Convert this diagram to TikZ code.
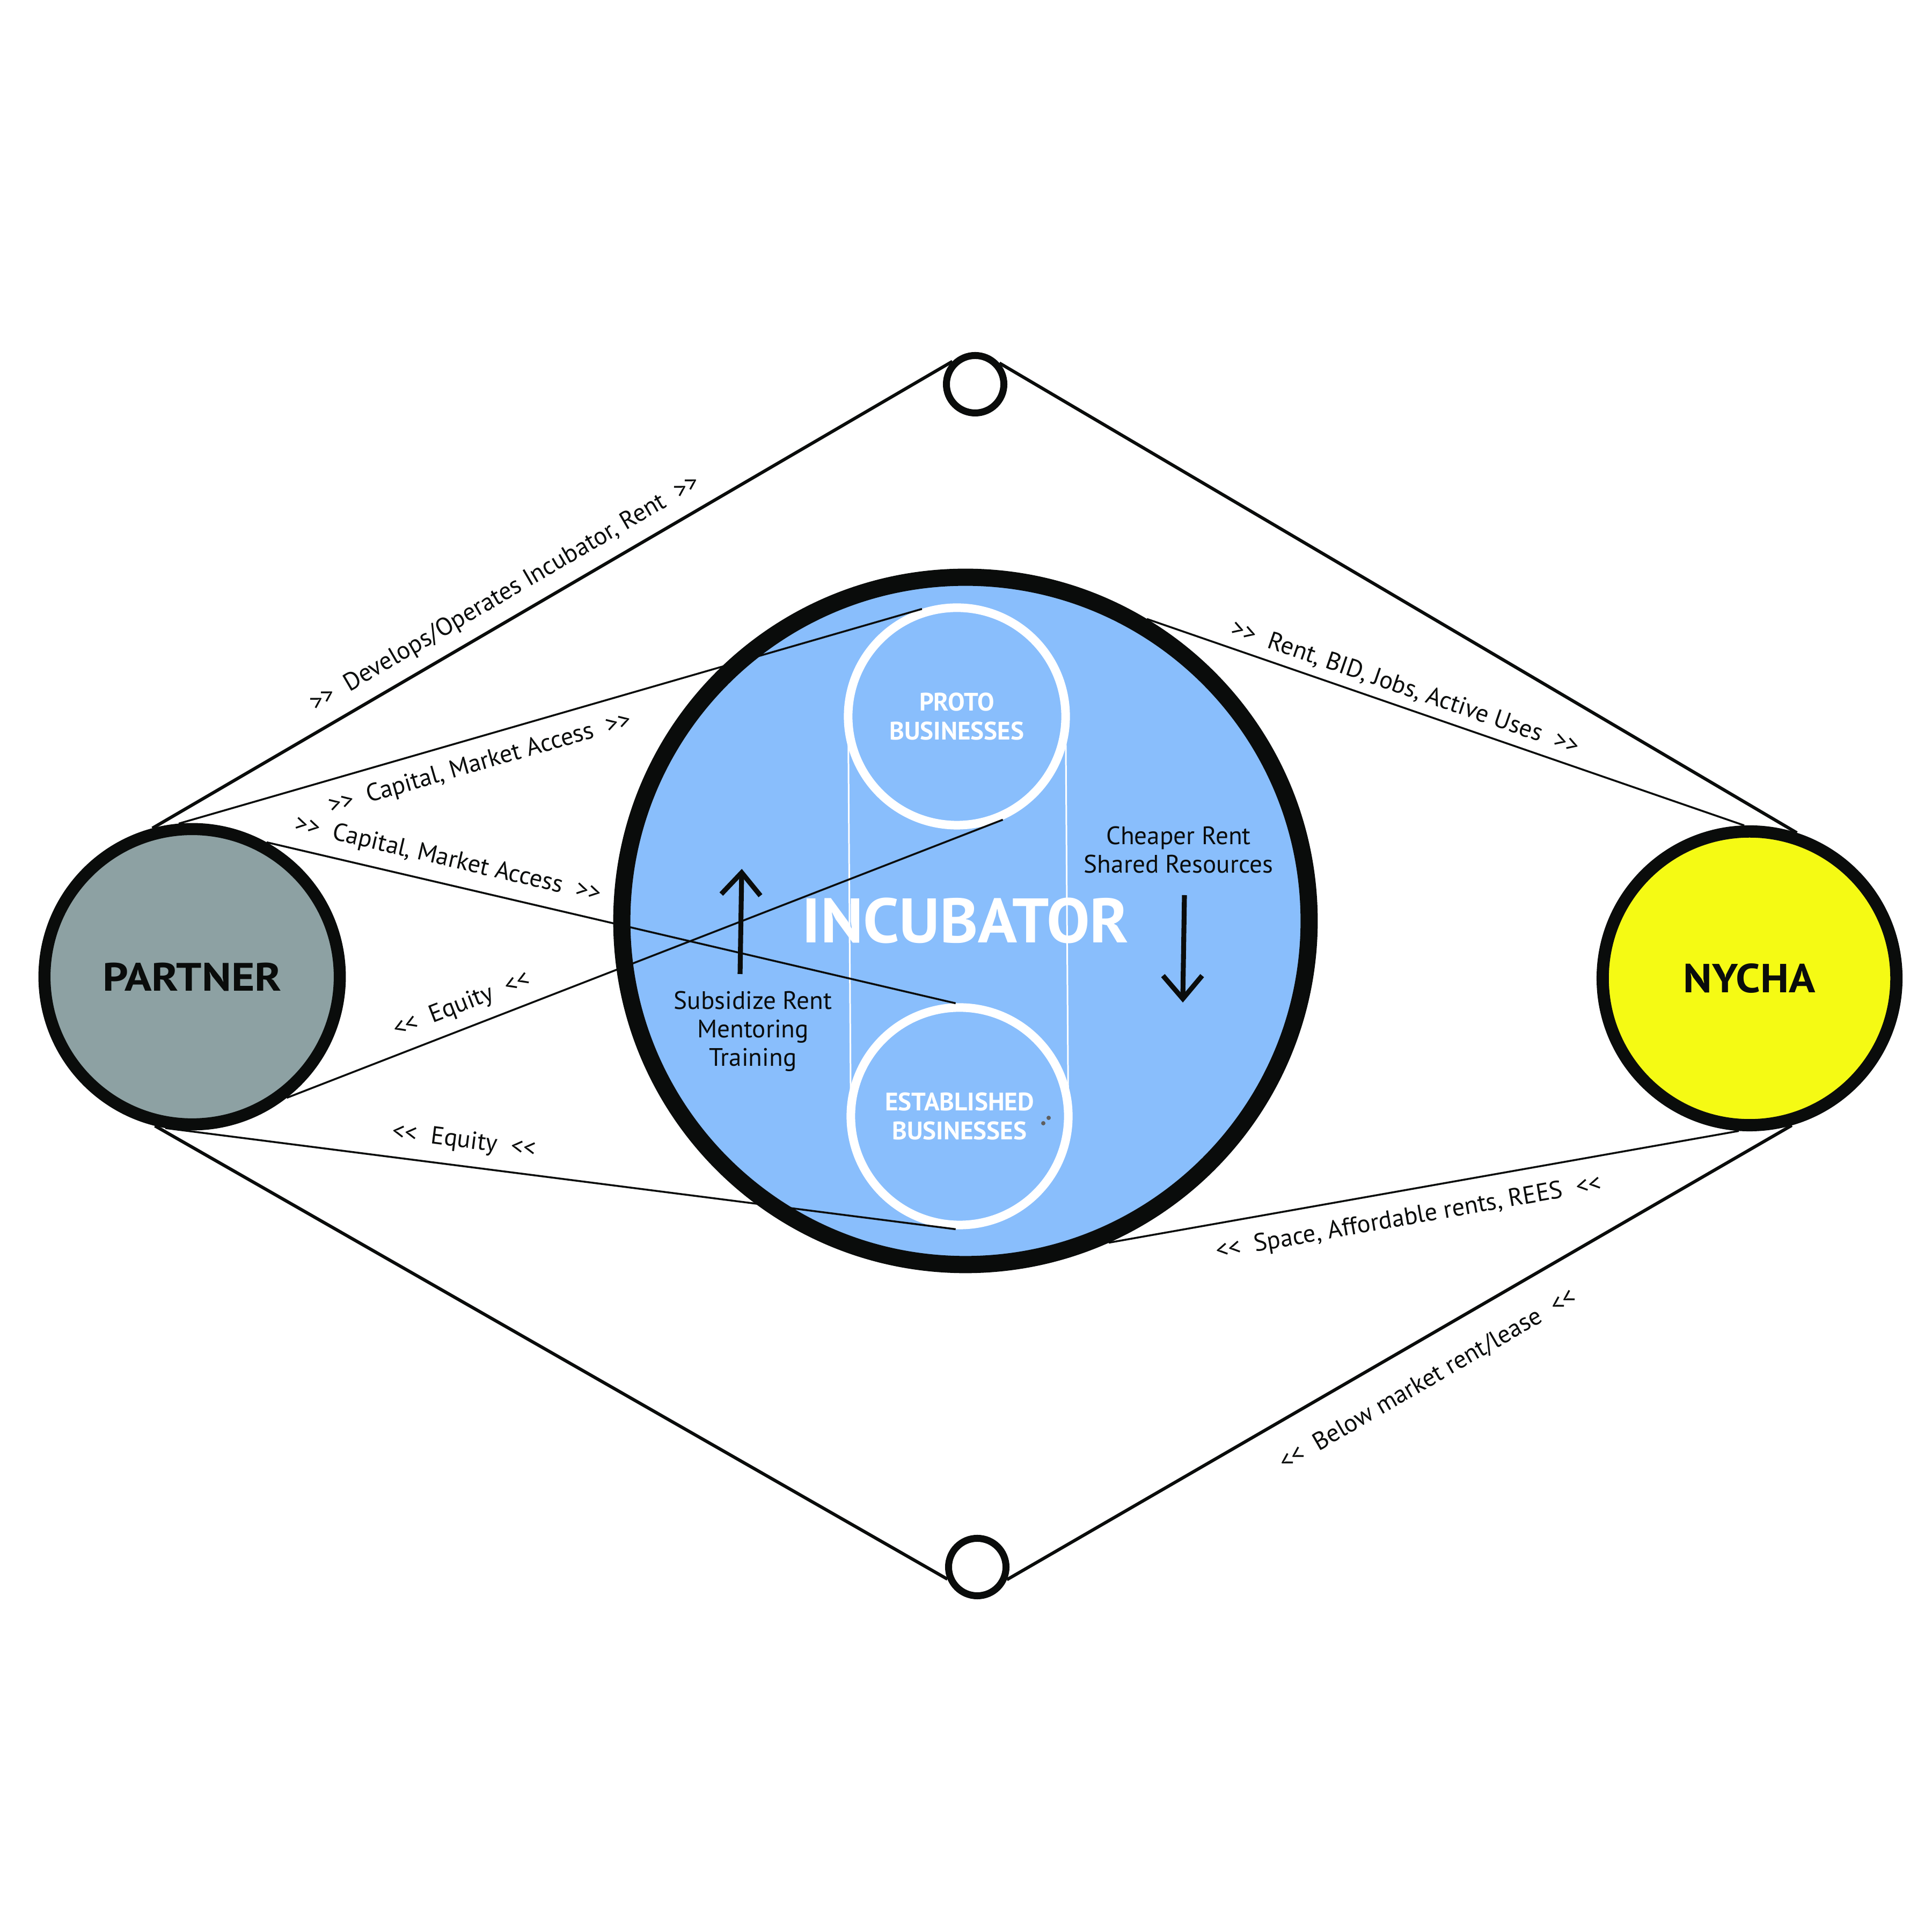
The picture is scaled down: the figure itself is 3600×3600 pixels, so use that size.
\documentclass[tikz,border=0pt]{standalone}
\usepackage{fontspec}
\setmainfont{PT Sans}
\newfontfamily\partnerfont{PT Sans}[FakeStretch=1.13]
\newfontfamily\nychafont{PT Sans}[FakeStretch=1.08]
\newfontfamily\incfont{PT Sans}[FakeStretch=1.03]
\definecolor{ink}{RGB}{10,12,11}
\definecolor{partnergray}{RGB}{141,161,163}
\definecolor{nychayellow}{RGB}{245,250,20}
\definecolor{incblue}{RGB}{137,190,252}
\definecolor{dotgray}{RGB}{95,95,95}
\newcommand\fwd{>\kern0pt>}
\newcommand\bwd{<\kern0pt<}
\newcommand\gapsp{\hspace{0.55em}}
\begin{document}
\begin{tikzpicture}[x=0.01cm,y=0.01cm,
  bigcircle/.style={circle, draw=ink, inner sep=0pt},
  smallcircle/.style={circle, draw=ink, fill=white, line width=3.7pt, inner sep=0pt, minimum size=1.07cm},
  ringcircle/.style={circle, draw=white, line width=4.55pt, inner sep=0pt, minimum size=4.05cm,
    text=white, align=center, font=\bfseries\fontsize{13.4}{15.1}\selectfont},
  lab/.style={font=\fontsize{13.2}{15.5}\selectfont, text=ink, sloped, inner xsep=0pt},
  intext/.style={font=\fontsize{13.4}{15.1}\selectfont, text=ink, align=center, inner sep=0pt},
  diamondline/.style={draw=ink, line width=1.7pt},
  flowline/.style={draw=ink, line width=1pt},
  tangentline/.style={draw=white, line width=0.85pt},
  arrowline/.style={draw=ink, line width=2.6pt, line join=miter}]
\useasboundingbox (0,0) rectangle (3600,3600);
\fill[white] (0,0) rectangle (3600,3600);

% main circles
\node[bigcircle, fill=incblue, line width=9.1pt, minimum size=12.8cm,
      text=white, font=\incfont\bfseries\fontsize{33.3}{36}\selectfont] (incubator) at (1799,1884) {INCUBATOR};
\node[bigcircle, fill=partnergray, line width=6.4pt, minimum size=5.5cm,
      text=ink, font=\partnerfont\bfseries\fontsize{21}{24}\selectfont] (partner) at (358,1780) {PARTNER};
\node[bigcircle, fill=nychayellow, line width=6.5pt, minimum size=5.47cm,
      text=ink, font=\nychafont\bfseries\fontsize{21.5}{24}\selectfont] (nycha) at (3260,1777) {NYCHA};
\node[smallcircle] (topc) at (1817,2884) {};
\node[smallcircle] (botc) at (1821,680) {};

% inner rings
\node[ringcircle] (proto) at (1783,2265) {PROTO\\BUSINESSES};
\node[ringcircle] (estab) at (1788,1520) {ESTABLISHED\\BUSINESSES};
\draw[tangentline] ([xshift=0.08cm]proto.west) -- ([xshift=0.08cm]estab.west);
\draw[tangentline] ([xshift=-0.08cm]proto.east) -- ([xshift=-0.08cm]estab.east);
\fill[dotgray] (1944,1507) circle[radius=0.04cm];
\fill[dotgray] (1954,1517) circle[radius=0.04cm];

% diamond
\draw[diamondline] (partner.105) -- node[lab, above, inner ysep=0.22cm, pos=0.457]
  {\fwd\gapsp Develops/Operates Incubator, Rent\gapsp\fwd} (topc.135);
\draw[diamondline] (topc.41) -- (nycha.72.6);
\draw[diamondline] (partner.-104.6) -- (botc.-158);
\draw[diamondline] (botc.-23.7) -- node[lab, below, inner ysep=0.48cm, pos=0.512]
  {\bwd\gapsp Below market rent/lease\gapsp\bwd} (nycha.-74.5);

% flows
\draw[flowline] (partner.95) -- node[lab, below, inner ysep=0.26cm, pos=0.396]
  {\fwd\gapsp Capital, Market Access\gapsp\fwd} (proto.108);
\draw[flowline] (partner.61) -- node[lab, above, inner ysep=0.22cm, pos=0.255]
  {\fwd\gapsp Capital, Market Access\gapsp\fwd} (estab.92.4);
\draw[flowline] (partner.-52) -- node[lab, above, inner ysep=0.2cm, pos=0.256]
  {\bwd\gapsp Equity\gapsp\bwd} (proto.-66.4);
\draw[flowline] (partner.-100) -- node[lab, above, inner ysep=0.23cm, pos=0.374]
  {\bwd\gapsp Equity\gapsp\bwd} (estab.-92.7);
\draw[flowline] (incubator.59.4) -- node[lab, above, inner ysep=0.14cm, pos=0.422]
  {\fwd\gapsp Rent, BID, Jobs, Active Uses\gapsp\fwd} (nycha.92.2);
\draw[flowline] (incubator.-66) -- node[lab, below, inner ysep=0.3cm, pos=0.468]
  {\bwd\gapsp Space, Affordable rents, REES\gapsp\bwd} (nycha.-94.7);

% inner texts
\node[intext, anchor=north] (subs) at (1403,1754) {Subsidize Rent\\Mentoring\\Training};
\node[intext, anchor=north] (cheap) at (2196,2061) {Cheaper Rent\\Shared Resources};

% arrows
\coordinate (upbase) at (1379,1785);
\coordinate (uptip) at (1382,1974);
\coordinate (upw1) at (1344,1934);
\coordinate (upw2) at (1417,1931);
\draw[arrowline] (upbase) -- (uptip);
\draw[arrowline] (upw1) -- (uptip) -- (upw2);
\coordinate (dnbase) at (2207,1932);
\coordinate (dntip) at (2204,1739);
\coordinate (dnw1) at (2167,1782);
\coordinate (dnw2) at (2240,1782);
\draw[arrowline] (dnbase) -- (dntip);
\draw[arrowline] (dnw1) -- (dntip) -- (dnw2);
\end{tikzpicture}
\end{document}
